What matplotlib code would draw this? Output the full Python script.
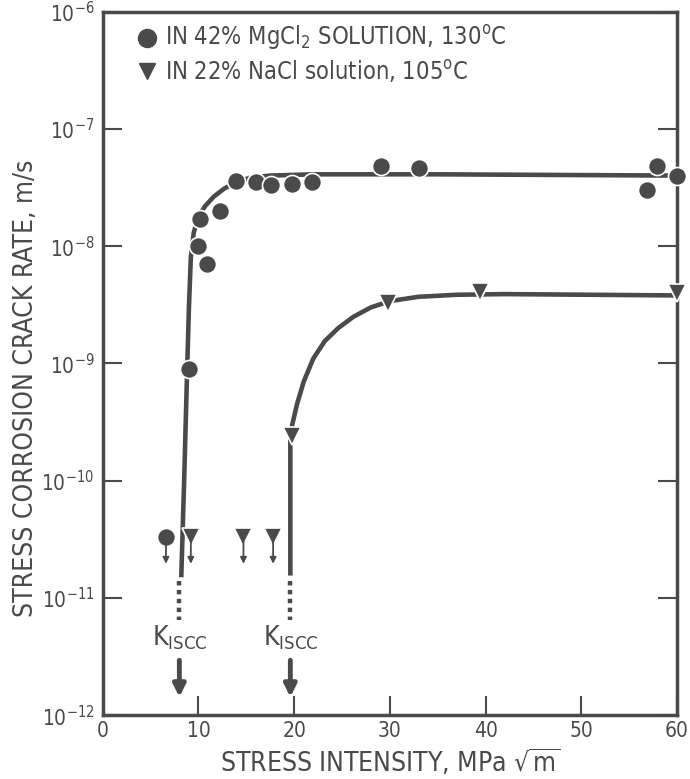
import matplotlib
matplotlib.use("Agg")
import matplotlib.pyplot as plt
from matplotlib import font_manager

# narrow/condensed face if one is installed
fonts = font_manager.fontManager.ttflist
cond = [f for f in fonts if f.name == 'DejaVu Sans' and 'ondensed' in f.fname]
plt.rcParams['font.family'] = ['DejaVu Sans']
if cond:
    plt.rcParams['font.stretch'] = 'condensed'
plt.rcParams['mathtext.default'] = 'regular'

ink = "#4a4a4a"

# MgCl2 data (circles)
mg_k = [9.0, 9.9, 10.2, 10.9, 12.3, 13.9, 16.0, 17.6, 19.8, 21.9, 29.1, 33.0, 56.9, 57.9, 60.0]
mg_v = [9e-10, 1.0e-8, 1.7e-8, 7e-9, 2.0e-8, 3.6e-8, 3.5e-8, 3.3e-8, 3.4e-8, 3.5e-8, 4.8e-8, 4.6e-8, 3.0e-8, 4.8e-8, 4.0e-8]
# NaCl data (triangles)
na_k = [19.8, 29.8, 39.4, 60.0]
na_v = [2.4e-10, 3.3e-9, 4.1e-9, 4.0e-9]
# no-growth points (below detection)
mg_low_k = [6.6]
na_low_k = [9.2, 14.7, 17.8]
low_v = 3.3e-11

# hand-drawn trend curves
mg_curve_k = [8.2, 8.5, 8.8, 9.0, 9.2, 9.5, 10.0, 10.7, 11.6, 12.7, 14.0, 15.5, 17.5, 22.0, 35.0, 60.0]
mg_curve_v = [1.5e-11, 1e-10, 8e-10, 3e-9, 8e-9, 1.3e-8, 1.8e-8, 2.2e-8, 2.65e-8, 3.1e-8,
              3.55e-8, 3.85e-8, 4.0e-8, 4.1e-8, 4.1e-8, 4.0e-8]
na_curve_k = [19.6, 19.6, 19.8, 20.3, 21.0, 22.0, 23.2, 24.6, 26.2, 28.0, 30.0, 33.0, 37.0, 42.0, 60.0]
na_curve_v = [1.55e-11, 2.2e-10, 3.0e-10, 4.5e-10, 7e-10, 1.1e-9, 1.55e-9, 2.0e-9, 2.5e-9,
              3.0e-9, 3.4e-9, 3.7e-9, 3.85e-9, 3.9e-9, 3.8e-9]

kiscc = [8.0, 19.6]

fig = plt.figure(figsize=(6.9, 7.79), dpi=100)
ax = fig.add_axes([0.149, 0.082, 0.832, 0.903])

ax.plot(mg_curve_k, mg_curve_v, color=ink, lw=3.3, solid_capstyle='butt', solid_joinstyle='round', zorder=2)
ax.plot(na_curve_k, na_curve_v, color=ink, lw=3.3, solid_capstyle='butt', solid_joinstyle='round', zorder=2)

mk = dict(color=ink, mec='white', mew=1.2, zorder=3, clip_on=False)
ax.plot(mg_k, mg_v, 'o', ms=13, **mk)
ax.plot(na_k, na_v, 'v', ms=13, **mk)
ax.plot(mg_low_k, [low_v], 'o', ms=13, **mk)
ax.plot(na_low_k, [low_v] * len(na_low_k), 'v', ms=13, **mk)

for k in mg_low_k + na_low_k:
    ax.annotate('', xy=(k, 1.85e-11), xytext=(k, low_v),
                arrowprops=dict(arrowstyle='-|>', color=ink, lw=1.3, mutation_scale=9))

for k in kiscc:
    ax.plot([k, k], [1.4e-11, 6.5e-12], color=ink, lw=3.2, ls=(0, (1, 1)))
    ax.text(k, 4.6e-12, r'K$_{ISCC}$', ha='center', va='center', fontsize=19, color=ink)
    ax.annotate('', xy=(k, 1.35e-12), xytext=(k, 3.1e-12),
                arrowprops=dict(arrowstyle='-|>', color=ink, lw=3.5, mutation_scale=18))

ax.set_yscale('log')
ax.set_xlim(0, 60)
ax.set_ylim(1e-12, 1e-6)
ax.set_xticks([0, 10, 20, 30, 40, 50, 60])
ax.set_yticks([1e-12, 1e-11, 1e-10, 1e-9, 1e-8, 1e-7, 1e-6])
ax.set_yticklabels([r'10$^{-12}$', r'10$^{-11}$', r'10$^{-10}$', r'10$^{-9}$',
                    r'10$^{-8}$', r'10$^{-7}$', r'10$^{-6}$'])
ax.minorticks_off()
ax.tick_params(direction='in', length=14, width=1.5, color=ink, labelcolor=ink, labelsize=15, pad=6)
ax.tick_params(axis='y', right=True)
ax.tick_params(axis='x', pad=4)
for s in ax.spines.values():
    s.set_linewidth(2.5)
    s.set_color(ink)

ax.set_xlabel(r'STRESS INTENSITY, MPa $\sqrt{m}$', fontsize=19, color=ink)
ax.xaxis.set_label_coords(0.5, -0.068)
ax.xaxis.label.set_va('center')
ax.set_ylabel('STRESS CORROSION CRACK RATE, m/s', fontsize=19, color=ink)
ax.yaxis.set_label_coords(-0.133, 0.464)
ax.yaxis.label.set_va('center')

ax.plot([0.077], [0.963], 'o', ms=13, color=ink, transform=ax.transAxes, clip_on=False)
ax.text(0.108, 0.963, r'IN 42% MgCl$_2$ SOLUTION, 130$^o$C', transform=ax.transAxes,
        fontsize=17, color=ink, va='center')
ax.plot([0.077], [0.915], 'v', ms=11, color=ink, transform=ax.transAxes, clip_on=False)
ax.text(0.108, 0.915, r'IN 22% NaCl solution, 105$^o$C', transform=ax.transAxes,
        fontsize=17, color=ink, va='center')

fig.savefig('out.png', dpi=100)
